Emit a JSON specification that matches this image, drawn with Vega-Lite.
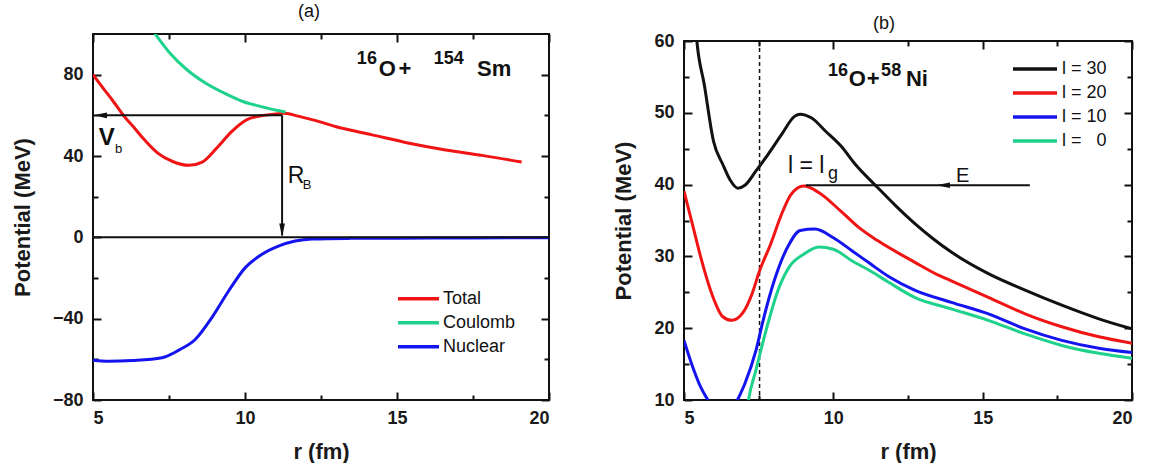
{
  "$schema": "https://vega.github.io/schema/vega-lite/v6.json",
  "padding": {"left": 10, "top": 2, "right": 0, "bottom": 0},
  "config": {
    "view": {"stroke": "#111111", "strokeWidth": 2},
    "font": "Liberation Sans",
    "axis": {
      "labelFont": "Liberation Sans", "labelFontSize": 18, "labelFontWeight": "bold", "labelColor": "#1a1a1a",
      "titleFont": "Liberation Sans", "titleFontSize": 22, "titleFontWeight": "bold", "titleColor": "#1a1a1a",
      "domain": false, "tickColor": "#111111", "tickWidth": 2, "grid": false
    },
    "title": {"font": "Liberation Sans", "fontSize": 18, "fontWeight": "normal", "color": "#111111"},
    "legend": {"labelFont": "Liberation Sans", "labelFontSize": 18, "labelColor": "#111111"}
  },
  "datasets": {
    "a_curves": [
      {"s": "Total", "r": 5.0, "V": 80}, {"s": "Total", "r": 5.3, "V": 74}, {"s": "Total", "r": 5.67, "V": 66.8},
      {"s": "Total", "r": 6.03, "V": 59.4}, {"s": "Total", "r": 6.35, "V": 54}, {"s": "Total", "r": 6.64, "V": 48.8},
      {"s": "Total", "r": 7.13, "V": 41.4}, {"s": "Total", "r": 7.62, "V": 37.3}, {"s": "Total", "r": 8.16, "V": 35.4},
      {"s": "Total", "r": 8.59, "V": 37.0}, {"s": "Total", "r": 9.07, "V": 43.9}, {"s": "Total", "r": 9.56, "V": 52.0},
      {"s": "Total", "r": 10.05, "V": 57.8}, {"s": "Total", "r": 10.53, "V": 59.8}, {"s": "Total", "r": 11.0, "V": 60.6},
      {"s": "Total", "r": 11.3, "V": 61}, {"s": "Total", "r": 11.75, "V": 59.6}, {"s": "Total", "r": 12.3, "V": 57.5},
      {"s": "Total", "r": 12.97, "V": 54.5}, {"s": "Total", "r": 14.18, "V": 50.4}, {"s": "Total", "r": 15.4, "V": 46.3},
      {"s": "Total", "r": 16.6, "V": 43.0}, {"s": "Total", "r": 17.8, "V": 40.3}, {"s": "Total", "r": 19.1, "V": 37.0},
      {"s": "Coulomb", "r": 7.0, "V": 101}, {"s": "Coulomb", "r": 7.49, "V": 91.3}, {"s": "Coulomb", "r": 8.1, "V": 82.3},
      {"s": "Coulomb", "r": 8.71, "V": 75.8}, {"s": "Coulomb", "r": 9.32, "V": 70.9}, {"s": "Coulomb", "r": 9.93, "V": 66.8},
      {"s": "Coulomb", "r": 10.53, "V": 64.3}, {"s": "Coulomb", "r": 11.33, "V": 61.6},
      {"s": "Nuclear", "r": 5.0, "V": -60.5}, {"s": "Nuclear", "r": 5.5, "V": -61.0}, {"s": "Nuclear", "r": 6.3, "V": -60.6},
      {"s": "Nuclear", "r": 7.27, "V": -59.2}, {"s": "Nuclear", "r": 7.82, "V": -55.5}, {"s": "Nuclear", "r": 8.37, "V": -50.1},
      {"s": "Nuclear", "r": 8.91, "V": -39.5}, {"s": "Nuclear", "r": 9.46, "V": -26.4}, {"s": "Nuclear", "r": 10.01, "V": -14.9},
      {"s": "Nuclear", "r": 10.56, "V": -8.3}, {"s": "Nuclear", "r": 11.1, "V": -4.3}, {"s": "Nuclear", "r": 11.65, "V": -1.8},
      {"s": "Nuclear", "r": 12.2, "V": -0.8}, {"s": "Nuclear", "r": 13.5, "V": -0.5}, {"s": "Nuclear", "r": 15, "V": -0.4},
      {"s": "Nuclear", "r": 17.5, "V": -0.3}, {"s": "Nuclear", "r": 20, "V": -0.2}
    ],
    "b_curves": [
      {"l": "l = 30", "r": 5.3, "V": 67}, {"l": "l = 30", "r": 5.43, "V": 60}, {"l": "l = 30", "r": 5.68, "V": 53.9},
      {"l": "l = 30", "r": 5.99, "V": 46.0}, {"l": "l = 30", "r": 6.3, "V": 42.8}, {"l": "l = 30", "r": 6.55, "V": 40.6},
      {"l": "l = 30", "r": 6.8, "V": 39.5}, {"l": "l = 30", "r": 7.04, "V": 39.9}, {"l": "l = 30", "r": 7.41, "V": 41.9},
      {"l": "l = 30", "r": 7.78, "V": 44.0}, {"l": "l = 30", "r": 8.27, "V": 47.0}, {"l": "l = 30", "r": 8.7, "V": 49.5},
      {"l": "l = 30", "r": 8.89, "V": 49.8}, {"l": "l = 30", "r": 9.26, "V": 49.3}, {"l": "l = 30", "r": 9.75, "V": 47.4},
      {"l": "l = 30", "r": 10.25, "V": 45.4}, {"l": "l = 30", "r": 10.74, "V": 42.8}, {"l": "l = 30", "r": 11.48, "V": 39.6},
      {"l": "l = 30", "r": 12.1, "V": 37.0}, {"l": "l = 30", "r": 12.72, "V": 34.6}, {"l": "l = 30", "r": 13.33, "V": 32.5},
      {"l": "l = 30", "r": 13.95, "V": 30.6}, {"l": "l = 30", "r": 15.19, "V": 27.6}, {"l": "l = 30", "r": 16.42, "V": 25.3},
      {"l": "l = 30", "r": 17.65, "V": 23.2}, {"l": "l = 30", "r": 18.89, "V": 21.3}, {"l": "l = 30", "r": 20, "V": 19.9},
      {"l": "l = 20", "r": 5.0, "V": 39.1}, {"l": "l = 20", "r": 5.31, "V": 34.0}, {"l": "l = 20", "r": 5.56, "V": 29.9},
      {"l": "l = 20", "r": 5.93, "V": 24.8}, {"l": "l = 20", "r": 6.3, "V": 21.6}, {"l": "l = 20", "r": 6.6, "V": 21.1},
      {"l": "l = 20", "r": 6.98, "V": 22.2}, {"l": "l = 20", "r": 7.28, "V": 24.8}, {"l": "l = 20", "r": 7.53, "V": 28.0},
      {"l": "l = 20", "r": 7.9, "V": 31.7}, {"l": "l = 20", "r": 8.27, "V": 35.9}, {"l": "l = 20", "r": 8.58, "V": 38.6},
      {"l": "l = 20", "r": 9.01, "V": 39.8}, {"l": "l = 20", "r": 9.51, "V": 38.9}, {"l": "l = 20", "r": 10.25, "V": 36.3},
      {"l": "l = 20", "r": 10.86, "V": 34.0}, {"l": "l = 20", "r": 11.48, "V": 32.2}, {"l": "l = 20", "r": 12.72, "V": 29.2},
      {"l": "l = 20", "r": 13.46, "V": 27.5}, {"l": "l = 20", "r": 13.95, "V": 26.6}, {"l": "l = 20", "r": 15.19, "V": 24.3},
      {"l": "l = 20", "r": 16.42, "V": 22.0}, {"l": "l = 20", "r": 17.65, "V": 20.2}, {"l": "l = 20", "r": 18.89, "V": 18.8},
      {"l": "l = 20", "r": 20, "V": 17.9},
      {"l": "l = 10", "r": 5.0, "V": 18.3}, {"l": "l = 10", "r": 5.25, "V": 15.1}, {"l": "l = 10", "r": 5.56, "V": 11.8},
      {"l": "l = 10", "r": 5.8, "V": 10}, {"l": "l = 10", "r": 6.3, "V": 6.5}, {"l": "l = 10", "r": 6.79, "V": 10},
      {"l": "l = 10", "r": 7.04, "V": 12.3}, {"l": "l = 10", "r": 7.41, "V": 16.9}, {"l": "l = 10", "r": 7.65, "V": 21.1},
      {"l": "l = 10", "r": 8.02, "V": 26.6}, {"l": "l = 10", "r": 8.52, "V": 31.7}, {"l": "l = 10", "r": 8.89, "V": 33.6},
      {"l": "l = 10", "r": 9.38, "V": 33.8}, {"l": "l = 10", "r": 10.0, "V": 32.6}, {"l": "l = 10", "r": 10.62, "V": 30.8},
      {"l": "l = 10", "r": 11.23, "V": 29.0}, {"l": "l = 10", "r": 11.85, "V": 27.2}, {"l": "l = 10", "r": 12.72, "V": 25.3},
      {"l": "l = 10", "r": 13.95, "V": 23.6}, {"l": "l = 10", "r": 15.19, "V": 22.0}, {"l": "l = 10", "r": 16.42, "V": 19.9},
      {"l": "l = 10", "r": 17.65, "V": 18.3}, {"l": "l = 10", "r": 18.89, "V": 17.2}, {"l": "l = 10", "r": 20, "V": 16.6},
      {"l": "l = \u20070", "r": 7.0, "V": 5}, {"l": "l = \u20070", "r": 7.16, "V": 10}, {"l": "l = \u20070", "r": 7.41, "V": 14.2},
      {"l": "l = \u20070", "r": 7.78, "V": 20.2}, {"l": "l = \u20070", "r": 8.15, "V": 25.3}, {"l": "l = \u20070", "r": 8.52, "V": 28.5},
      {"l": "l = \u20070", "r": 9.01, "V": 30.3}, {"l": "l = \u20070", "r": 9.51, "V": 31.3}, {"l": "l = \u20070", "r": 10.0, "V": 31.0},
      {"l": "l = \u20070", "r": 10.62, "V": 29.4}, {"l": "l = \u20070", "r": 11.23, "V": 28.0}, {"l": "l = \u20070", "r": 11.85, "V": 26.4},
      {"l": "l = \u20070", "r": 12.72, "V": 24.3}, {"l": "l = \u20070", "r": 13.95, "V": 22.7}, {"l": "l = \u20070", "r": 15.19, "V": 21.1},
      {"l": "l = \u20070", "r": 16.42, "V": 19.2}, {"l": "l = \u20070", "r": 17.65, "V": 17.6}, {"l": "l = \u20070", "r": 18.89, "V": 16.5},
      {"l": "l = \u20070", "r": 20, "V": 15.8}
    ]
  },
  "hconcat": [
    {
      "width": 456, "height": 366,
      "title": {"text": "(a)", "offset": 12, "dx": -12},
      "resolve": {"axis": {"x": "independent", "y": "independent"}},
      "layer": [
        {
          "data": {"name": "a_curves"},
          "mark": {"type": "line", "strokeWidth": 3, "clip": true, "interpolate": "monotone"},
          "encoding": {
            "x": {"field": "r", "type": "quantitative", "scale": {"domain": [5, 20], "nice": false, "zero": false},
                  "axis": {"orient": "bottom", "values": [5, 10, 15, 20], "title": "r (fm)", "tickSize": -8, "labelPadding": 17, "titlePadding": 14}},
            "y": {"field": "V", "type": "quantitative", "scale": {"domain": [-80, 100], "nice": false, "zero": false},
                  "axis": {"orient": "left", "values": [-80, -40, 0, 40, 80], "title": "Potential (MeV)", "tickSize": -8, "labelPadding": 18, "titlePadding": 18}},
            "color": {"field": "s", "type": "nominal",
                      "scale": {"domain": ["Total", "Coulomb", "Nuclear"], "range": ["#f01414", "#1fd28c", "#1414f0"]},
                      "legend": {"orient": "none", "legendX": 303, "legendY": 253, "title": null, "symbolType": "stroke", "symbolSize": 1681, "symbolStrokeWidth": 3.5, "labelOffset": 2, "clipHeight": 23.5, "rowPadding": 0, "padding": 0}}
          }
        },
        {
          "data": {"values": []},
          "mark": {"type": "rule"},
          "encoding": {
            "x": {"field": "r", "type": "quantitative", "axis": {"orient": "top", "values": [5, 10, 15, 20], "labels": false, "title": null, "tickSize": -8}},
            "y": {"field": "V", "type": "quantitative", "axis": {"orient": "right", "values": [-80, -40, 0, 40, 80], "labels": false, "title": null, "tickSize": -8}}
          }
        },
        {
          "data": {"values": []},
          "mark": {"type": "rule"},
          "encoding": {
            "x": {"field": "r", "type": "quantitative", "axis": {"orient": "bottom", "values": [7.5, 12.5, 17.5], "labels": false, "title": null, "tickSize": -5}},
            "y": {"field": "V", "type": "quantitative", "axis": {"orient": "left", "values": [-60, -20, 20, 60], "labels": false, "title": null, "tickSize": -5}}
          }
        },
        {
          "data": {"values": []},
          "mark": {"type": "rule"},
          "encoding": {
            "x": {"field": "r", "type": "quantitative", "axis": {"orient": "top", "values": [7.5, 12.5, 17.5], "labels": false, "title": null, "tickSize": -5}},
            "y": {"field": "V", "type": "quantitative", "axis": {"orient": "right", "values": [-60, -20, 20, 60], "labels": false, "title": null, "tickSize": -5}}
          }
        },
        {
          "data": {"values": [{"V": 0}]},
          "mark": {"type": "rule", "color": "#111111", "strokeWidth": 2},
          "encoding": {"y": {"field": "V", "type": "quantitative", "axis": null}}
        },
        {
          "data": {"values": [{"r": 5.3, "r2": 11.22, "V": 60, "V2": 60}, {"r": 11.22, "r2": 11.22, "V": 60, "V2": 1}]},
          "mark": {"type": "rule", "color": "#111111", "strokeWidth": 2},
          "encoding": {
            "x": {"field": "r", "type": "quantitative", "axis": null}, "x2": {"field": "r2"},
            "y": {"field": "V", "type": "quantitative", "axis": null}, "y2": {"field": "V2"}
          }
        },
        {
          "data": {"values": [{"r": 5.23, "V": 60}]},
          "mark": {"type": "point", "shape": "M-1,0L1,-0.4L1,0.4Z", "size": 196, "filled": true, "color": "#111111", "opacity": 1},
          "encoding": {"x": {"field": "r", "type": "quantitative", "axis": null}, "y": {"field": "V", "type": "quantitative", "axis": null}}
        },
        {
          "data": {"values": [{"r": 11.22, "V": 3.4}]},
          "mark": {"type": "point", "shape": "M0,1L-0.4,-1L0.4,-1Z", "size": 196, "filled": true, "color": "#111111", "opacity": 1},
          "encoding": {"x": {"field": "r", "type": "quantitative", "axis": null}, "y": {"field": "V", "type": "quantitative", "axis": null}}
        },
        {
          "data": {"values": [{"r": 13.68, "V": 85.1, "t": "16"}, {"r": 16.21, "V": 85.1, "t": "154"}]},
          "mark": {"type": "text", "align": "left", "baseline": "alphabetic", "font": "Liberation Sans", "fontSize": 18, "fontWeight": "bold", "color": "#111111"},
          "encoding": {"x": {"field": "r", "type": "quantitative", "axis": null}, "y": {"field": "V", "type": "quantitative", "axis": null}, "text": {"field": "t"}}
        },
        {
          "data": {"values": [{"r": 14.4, "V": 79.4, "t": "O"}, {"r": 15.05, "V": 79.4, "t": "+"}, {"r": 17.63, "V": 79.4, "t": "Sm"}]},
          "mark": {"type": "text", "align": "left", "baseline": "alphabetic", "font": "Liberation Sans", "fontSize": 22, "fontWeight": "bold", "color": "#111111"},
          "encoding": {"x": {"field": "r", "type": "quantitative", "axis": null}, "y": {"field": "V", "type": "quantitative", "axis": null}, "text": {"field": "t"}}
        },
        {
          "data": {"values": [{"r": 5.19, "V": 45.4, "t": "V"}]},
          "mark": {"type": "text", "align": "left", "baseline": "alphabetic", "font": "Liberation Sans", "fontSize": 24, "fontWeight": "bold", "color": "#111111"},
          "encoding": {"x": {"field": "r", "type": "quantitative", "axis": null}, "y": {"field": "V", "type": "quantitative", "axis": null}, "text": {"field": "t"}}
        },
        {
          "data": {"values": [{"r": 11.41, "V": 26.9, "t": "R"}]},
          "mark": {"type": "text", "align": "left", "baseline": "alphabetic", "font": "Liberation Sans", "fontSize": 23, "fontWeight": "normal", "color": "#111111"},
          "encoding": {"x": {"field": "r", "type": "quantitative", "axis": null}, "y": {"field": "V", "type": "quantitative", "axis": null}, "text": {"field": "t"}}
        },
        {
          "data": {"values": [{"r": 5.72, "V": 41.3, "t": "b"}, {"r": 11.9, "V": 23.6, "t": "B"}]},
          "mark": {"type": "text", "align": "left", "baseline": "alphabetic", "font": "Liberation Sans", "fontSize": 13, "fontWeight": "normal", "color": "#111111"},
          "encoding": {"x": {"field": "r", "type": "quantitative", "axis": null}, "y": {"field": "V", "type": "quantitative", "axis": null}, "text": {"field": "t"}}
        }
      ]
    },
    {
      "spacing": 0,
      "bounds": "flush",
      "vconcat": [
        {
          "width": 448, "height": 7,
          "view": {"stroke": null},
          "title": {"text": "(b)", "offset": 1, "dx": -24},
          "data": {"values": [{}]},
          "mark": {"type": "point", "opacity": 0}
        },
        {
          "width": 448, "height": 359,
          "resolve": {"axis": {"x": "independent", "y": "independent"}},
          "layer": [
            {
              "data": {"values": [{"r": 7.53}]},
              "mark": {"type": "rule", "color": "#111111", "strokeWidth": 1.5, "strokeDash": [4, 3]},
              "encoding": {"x": {"field": "r", "type": "quantitative", "axis": null}}
            },
            {
              "data": {"name": "b_curves"},
              "mark": {"type": "line", "strokeWidth": 3, "clip": true, "interpolate": "monotone"},
              "encoding": {
                "x": {"field": "r", "type": "quantitative", "scale": {"domain": [5, 20], "nice": false, "zero": false},
                      "axis": {"orient": "bottom", "values": [5, 10, 15, 20], "title": "r (fm)", "tickSize": -8, "labelPadding": 17, "titlePadding": 14}},
                "y": {"field": "V", "type": "quantitative", "scale": {"domain": [10, 60], "nice": false, "zero": false},
                      "axis": {"orient": "left", "values": [10, 20, 30, 40, 50, 60], "title": "Potential (MeV)", "tickSize": -8, "labelPadding": 18, "titlePadding": 18}},
                "color": {"field": "l", "type": "nominal",
                          "scale": {"domain": ["l = 30", "l = 20", "l = 10", "l = \u20070"], "range": ["#111111", "#f01414", "#1414f0", "#1fd28c"]},
                          "legend": {"orient": "none", "legendX": 327, "legendY": 23, "title": null, "symbolType": "stroke", "symbolSize": 1936, "symbolStrokeWidth": 3.5, "labelOffset": 3, "clipHeight": 23.8, "rowPadding": 0, "padding": 0}}
              }
            },
            {
              "data": {"values": []},
              "mark": {"type": "rule"},
              "encoding": {
                "x": {"field": "r", "type": "quantitative", "axis": {"orient": "top", "values": [5, 10, 15, 20], "labels": false, "title": null, "tickSize": -8}},
                "y": {"field": "V", "type": "quantitative", "axis": {"orient": "right", "values": [10, 20, 30, 40, 50, 60], "labels": false, "title": null, "tickSize": -8}}
              }
            },
            {
              "data": {"values": []},
              "mark": {"type": "rule"},
              "encoding": {
                "x": {"field": "r", "type": "quantitative", "axis": {"orient": "bottom", "values": [7.5, 12.5, 17.5], "labels": false, "title": null, "tickSize": -5}},
                "y": {"field": "V", "type": "quantitative", "axis": {"orient": "left", "values": [15, 25, 35, 45, 55], "labels": false, "title": null, "tickSize": -5}}
              }
            },
            {
              "data": {"values": []},
              "mark": {"type": "rule"},
              "encoding": {
                "x": {"field": "r", "type": "quantitative", "axis": {"orient": "top", "values": [7.5, 12.5, 17.5], "labels": false, "title": null, "tickSize": -5}},
                "y": {"field": "V", "type": "quantitative", "axis": {"orient": "right", "values": [15, 25, 35, 45, 55], "labels": false, "title": null, "tickSize": -5}}
              }
            },
            {
              "data": {"values": [{"r": 9.08, "r2": 16.58, "V": 39.9, "V2": 39.9}]},
              "mark": {"type": "rule", "color": "#111111", "strokeWidth": 2},
              "encoding": {
                "x": {"field": "r", "type": "quantitative", "axis": null}, "x2": {"field": "r2"},
                "y": {"field": "V", "type": "quantitative", "axis": null}, "y2": {"field": "V2"}
              }
            },
            {
              "data": {"values": [{"r": 13.67, "V": 39.9}]},
              "mark": {"type": "point", "shape": "M-1,0L1,-0.4L1,0.4Z", "size": 196, "filled": true, "color": "#111111", "opacity": 1},
              "encoding": {"x": {"field": "r", "type": "quantitative", "axis": null}, "y": {"field": "V", "type": "quantitative", "axis": null}}
            },
            {
              "data": {"values": [{"r": 9.82, "V": 55.1, "t": "16"}, {"r": 11.6, "V": 55.1, "t": "58"}]},
              "mark": {"type": "text", "align": "left", "baseline": "alphabetic", "font": "Liberation Sans", "fontSize": 18, "fontWeight": "bold", "color": "#111111"},
              "encoding": {"x": {"field": "r", "type": "quantitative", "axis": null}, "y": {"field": "V", "type": "quantitative", "axis": null}, "text": {"field": "t"}}
            },
            {
              "data": {"values": [{"r": 10.52, "V": 53.7, "t": "O"}, {"r": 11.12, "V": 53.7, "t": "+"}, {"r": 12.43, "V": 53.7, "t": "Ni"}]},
              "mark": {"type": "text", "align": "left", "baseline": "alphabetic", "font": "Liberation Sans", "fontSize": 22, "fontWeight": "bold", "color": "#111111"},
              "encoding": {"x": {"field": "r", "type": "quantitative", "axis": null}, "y": {"field": "V", "type": "quantitative", "axis": null}, "text": {"field": "t"}}
            },
            {
              "data": {"values": [{"r": 8.48, "V": 41.66, "t": "l = l"}]},
              "mark": {"type": "text", "align": "left", "baseline": "alphabetic", "font": "Liberation Sans", "fontSize": 23, "fontWeight": "normal", "color": "#111111"},
              "encoding": {"x": {"field": "r", "type": "quantitative", "axis": null}, "y": {"field": "V", "type": "quantitative", "axis": null}, "text": {"field": "t"}}
            },
            {
              "data": {"values": [{"r": 14.11, "V": 40.4, "t": "E"}]},
              "mark": {"type": "text", "align": "left", "baseline": "alphabetic", "font": "Liberation Sans", "fontSize": 20, "fontWeight": "normal", "color": "#111111"},
              "encoding": {"x": {"field": "r", "type": "quantitative", "axis": null}, "y": {"field": "V", "type": "quantitative", "axis": null}, "text": {"field": "t"}}
            },
            {
              "data": {"values": [{"r": 9.82, "V": 40.8, "t": "g"}]},
              "mark": {"type": "text", "align": "left", "baseline": "alphabetic", "font": "Liberation Sans", "fontSize": 18, "fontWeight": "normal", "color": "#111111"},
              "encoding": {"x": {"field": "r", "type": "quantitative", "axis": null}, "y": {"field": "V", "type": "quantitative", "axis": null}, "text": {"field": "t"}}
            }
          ]
        }
      ]
    }
  ],
  "spacing": 60,
  "resolve": {"scale": {"color": "independent"}}
}
